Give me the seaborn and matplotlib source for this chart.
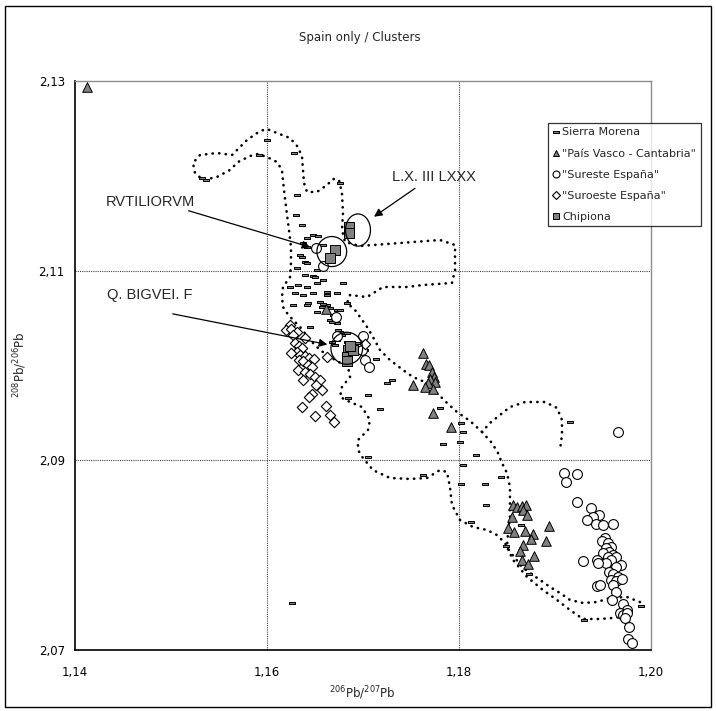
import numpy as np
import pandas as pd
import matplotlib
matplotlib.use("Agg")
import matplotlib.pyplot as plt
import seaborn as sns
from matplotlib.patches import Ellipse, Rectangle
from matplotlib.lines import Line2D
from matplotlib.path import Path

sns.set_style("white")
plt.rcParams["font.family"] = ["DejaVu Sans"]

# ---------------- data ----------------
sierra_x = [1.1600, 1.16288, 1.15917, 1.15328, 1.1537, 1.16316, 1.16305, 1.16368, 1.16766, 1.1642,
            1.16489, 1.16541, 1.16384, 1.1642, 1.1635, 1.16368, 1.16402, 1.1642, 1.16316, 1.16402,
            1.16489, 1.16524, 1.16593, 1.16506, 1.16593, 1.16332, 1.1642, 1.16524, 1.168, 1.16298,
            1.16489, 1.16627, 1.16731, 1.16437, 1.16558, 1.16627, 1.16662, 1.16731, 1.16836, 1.16696,
            1.16662, 1.16731, 1.16454, 1.16766, 1.16836, 1.16836, 1.16731, 1.16246, 1.16384, 1.16627,
            1.1628, 1.1642, 1.16593, 1.16766, 1.16524, 1.16576, 1.1668, 1.16748, 1.16783, 1.16887,
            1.1694, 1.16974, 1.1668, 1.16714, 1.1714, 1.17252, 1.17303, 1.1706, 1.16852, 1.17182,
            1.17806, 1.18031, 1.18048, 1.18014, 1.1784, 1.1818, 1.18048, 1.17632, 1.1706, 1.1687,
            1.17026, 1.18031, 1.18274, 1.18284, 1.18447, 1.18135, 1.18655, 1.18492, 1.18734, 1.19303,
            1.19903, 1.19158, 1.1627]
sierra_y = [2.1238, 2.12237, 2.12219, 2.11973, 2.1196, 2.11797, 2.11586, 2.1148, 2.11927, 2.1134,
            2.11375, 2.11364, 2.11287, 2.11251, 2.11164, 2.11146, 2.11093, 2.11076, 2.11023, 2.10952,
            2.10942, 2.11005, 2.11269, 2.10935, 2.109, 2.10847, 2.1083, 2.10865, 2.10865, 2.10759,
            2.10759, 2.10741, 2.10759, 2.10654, 2.10671, 2.10636, 2.10601, 2.10583, 2.10654, 2.1053,
            2.10478, 2.10443, 2.10407, 2.10354, 2.10337, 2.10249, 2.10266, 2.10823, 2.10741, 2.10777,
            2.10636, 2.10636, 2.10646, 2.10583, 2.10566, 2.10618, 2.1046, 2.10372, 2.10319, 2.10249,
            2.10232, 2.10196, 2.10249, 2.10214, 2.10069, 2.0981, 2.09844, 2.09686, 2.09651, 2.09535,
            2.09545, 2.09394, 2.09299, 2.09193, 2.09169, 2.0905, 2.08947, 2.08842, 2.09029, 2.10232,
            2.10161, 2.08747, 2.08747, 2.08525, 2.08817, 2.08349, 2.08314, 2.08092, 2.07797, 2.07311,
            2.07462, 2.09404, 2.0749]

vasco_x = [1.1413, 1.1857, 1.1861, 1.1866, 1.1870, 1.1867, 1.1871, 1.1856, 1.1852, 1.1858,
           1.1869, 1.1878, 1.1876, 1.1894, 1.1891, 1.1867, 1.1864, 1.1879, 1.1866, 1.1872,
           1.1763, 1.1766, 1.1769, 1.1772, 1.1774, 1.1770, 1.1776, 1.1768, 1.1765, 1.1773,
           1.1753, 1.1773, 1.1792, 1.1662]
vasco_y = [2.1294, 2.0853, 2.0850, 2.0851, 2.0853, 2.0847, 2.0842, 2.0840, 2.0828, 2.0824,
           2.0825, 2.0822, 2.0817, 2.0830, 2.0815, 2.0810, 2.0804, 2.0799, 2.0794, 2.0790,
           2.1013, 2.1001, 2.1000, 2.0993, 2.0988, 2.0985, 2.0982, 2.0981, 2.0977, 2.0975,
           2.0979, 2.0950, 2.0935, 2.1059]

sureste_x = [1.1966, 1.1910, 1.1923, 1.1912, 1.1923, 1.1938, 1.1946, 1.1940, 1.1934, 1.1943,
             1.1950, 1.1961, 1.1953, 1.1949, 1.1956, 1.1959, 1.1954, 1.1957, 1.1950, 1.1961,
             1.1956, 1.1964, 1.1959, 1.1954, 1.1969, 1.1964, 1.1957, 1.1961, 1.1966, 1.1959,
             1.1964, 1.1970, 1.1961, 1.1964, 1.1960, 1.1971, 1.1975, 1.1968, 1.1971, 1.1975,
             1.1973, 1.1978, 1.1977, 1.1981, 1.1930, 1.1944, 1.1945, 1.1944, 1.1947,
             1.1652, 1.1659, 1.16724, 1.16738, 1.17008, 1.17026, 1.1707, 1.16992]
sureste_y = [2.0930, 2.0886, 2.0885, 2.0877, 2.0856, 2.0849, 2.0842, 2.0840, 2.0837, 2.0832,
             2.0831, 2.0832, 2.0818, 2.0814, 2.0812, 2.0808, 2.0807, 2.0803, 2.0802, 2.0800,
             2.0798, 2.0798, 2.0794, 2.0791, 2.0789, 2.0787, 2.0782, 2.0780, 2.0777, 2.0773,
             2.0772, 2.0774, 2.0768, 2.0761, 2.0752, 2.0748, 2.0742, 2.0739, 2.0736, 2.0738,
             2.0733, 2.0724, 2.0711, 2.0707, 2.0793, 2.0794, 2.0791, 2.0767, 2.0768,
             2.1124, 2.1105, 2.10506, 2.1031, 2.1031, 2.1006, 2.0998, 2.1016]

suroeste_x = [1.1624, 1.1620, 1.1626, 1.1632, 1.1628, 1.1640, 1.1630, 1.1634, 1.1637, 1.1632,
              1.1625, 1.1635, 1.1640, 1.1644, 1.1649, 1.1634, 1.1638, 1.1643, 1.1647, 1.1633,
              1.1640, 1.1645, 1.1651, 1.1656, 1.1638, 1.1652, 1.1658, 1.1647, 1.1644, 1.1637,
              1.1662, 1.1650, 1.1666, 1.1670, 1.1663, 1.1703]
suroeste_y = [2.1042, 2.1037, 2.1038, 2.1035, 2.1032, 2.1029, 2.1023, 2.1020, 2.1018, 2.1014,
              2.1013, 2.1011, 2.1010, 2.1008, 2.1007, 2.1006, 2.1004, 2.1000, 2.0998, 2.0995,
              2.0993, 2.0991, 2.0988, 2.0984, 2.0984, 2.0979, 2.0974, 2.0970, 2.0967, 2.0956,
              2.0957, 2.0946, 2.0947, 2.0940, 2.1009, 2.1022]

chipiona_x = [1.1671, 1.1666, 1.16852, 1.16836, 1.16836, 1.16904, 1.1687, 1.1686, 1.1686]
chipiona_y = [2.1122, 2.1113, 2.1016, 2.1009, 2.1004, 2.1016, 2.1020, 2.1146, 2.1140]

# dotted cluster outlines
outline1_x = [1.19890, 1.19755, 1.19578, 1.19443, 1.19297, 1.19161, 1.19057, 1.18953, 1.18849, 1.18745,
              1.18661, 1.18589, 1.18536, 1.18484, 1.18401, 1.18297, 1.18151, 1.18016, 1.17932, 1.17911,
              1.17880, 1.17807, 1.17672, 1.17495, 1.17286, 1.17109, 1.17005, 1.16953, 1.16953, 1.17057,
              1.17078, 1.16995, 1.16870, 1.16766, 1.16786, 1.16870, 1.16849, 1.16714, 1.16557, 1.16474,
              1.16349, 1.16276, 1.16214, 1.16172, 1.16161, 1.16172, 1.16245, 1.16255, 1.16255, 1.16234,
              1.16214, 1.16182, 1.16161, 1.16109, 1.16005, 1.15911, 1.15828, 1.15703, 1.15620, 1.15484,
              1.15339, 1.15255, 1.15234, 1.15307, 1.15484, 1.15641, 1.15797, 1.15932, 1.16005, 1.16109,
              1.16245, 1.16328, 1.16370, 1.16380, 1.16391, 1.16422, 1.16526, 1.16630, 1.16693, 1.16755,
              1.16786, 1.16797, 1.16786, 1.16818, 1.16974, 1.17391, 1.17807, 1.17964, 1.17964, 1.17932,
              1.17630, 1.17464, 1.17214, 1.17047, 1.16870, 1.16839, 1.16922, 1.16974, 1.17047, 1.17109,
              1.17182, 1.17286, 1.17422, 1.17526, 1.17672, 1.17776, 1.17880, 1.17984, 1.18120, 1.18245,
              1.18328, 1.18432, 1.18536, 1.18693, 1.18901, 1.19026, 1.19078, 1.19078, 1.19057]
outline1_y = [2.07501, 2.07554, 2.07544, 2.07501, 2.07491, 2.07523, 2.07596, 2.07660, 2.07734, 2.07807,
              2.07871, 2.07966, 2.08029, 2.08124, 2.08208, 2.08261, 2.08293, 2.08367, 2.08525, 2.08715,
              2.08873, 2.08894, 2.08810, 2.08800, 2.08810, 2.08894, 2.09021, 2.09106, 2.09211, 2.09317,
              2.09422, 2.09559, 2.09612, 2.09665, 2.09771, 2.09876, 2.09982, 2.10055, 2.10161, 2.10245,
              2.10404, 2.10478, 2.10551, 2.10615, 2.10720, 2.10826, 2.10931, 2.11079, 2.11248, 2.11427,
              2.11586, 2.11850, 2.12061, 2.12145, 2.12198, 2.12230, 2.12208, 2.12145, 2.12061, 2.11987,
              2.11955, 2.12029, 2.12135, 2.12219, 2.12240, 2.12219, 2.12377, 2.12472, 2.12493, 2.12451,
              2.12398, 2.12303, 2.12198, 2.12061, 2.11923, 2.11829, 2.11829, 2.11902, 2.11966, 2.11955,
              2.11818, 2.11607, 2.11427, 2.11301, 2.11259, 2.11290, 2.11322, 2.11269, 2.11005, 2.10868,
              2.10847, 2.10826, 2.10826, 2.10720, 2.10741, 2.10657, 2.10583, 2.10509, 2.10404, 2.10298,
              2.10161, 2.10055, 2.09950, 2.09876, 2.09813, 2.09707, 2.09602, 2.09507, 2.09412, 2.09296,
              2.09391, 2.09475, 2.09559, 2.09612, 2.09612, 2.09549, 2.09422, 2.09264, 2.09106]

outline2_x = [1.18245, 1.18349, 1.18411, 1.18453, 1.18505, 1.18536, 1.18536, 1.18536, 1.18516, 1.18505,
              1.18568, 1.18714, 1.18880, 1.19026, 1.19161, 1.19297, 1.19474, 1.19609, 1.19682]
outline2_y = [2.09296, 2.09179, 2.09074, 2.08968, 2.08863, 2.08715, 2.08578, 2.08398, 2.08230, 2.08082,
              2.07945, 2.07765, 2.07628, 2.07523, 2.07417, 2.07322, 2.07322, 2.07333, 2.07343]

x_ticks = [1.14, 1.16, 1.18, 1.20]
y_ticks = [2.07, 2.09, 2.11, 2.13]
x_ticklabels = ["1,14", "1,16", "1,18", "1,20"]
y_ticklabels = ["2,07", "2,09", "2,11", "2,13"]

# ---------------- figure ----------------
W, H = 716, 711
fig = plt.figure(figsize=(W / 100, H / 100), dpi=100)
ax = fig.add_axes([74.5 / W, 1 - 649.5 / H, (650.5 - 74.5) / W, (649.5 - 81) / H])

for xv in [1.16, 1.18]:
    ax.axvline(xv, color="#444444", lw=0.8, ls=(0, (1, 1)), zorder=0)
for yv in [2.09, 2.11]:
    ax.axhline(yv, color="#444444", lw=0.8, ls=(0, (1, 1)), zorder=0)

dotted = (0, (0.1, 2.4))
for ox, oy in [(outline1_x, outline1_y), (outline2_x, outline2_y)]:
    sns.lineplot(x=ox, y=oy, sort=False, estimator=None, ax=ax, color="black",
                 lw=1.9, linestyle=dotted, dash_capstyle="round", zorder=2)

dash_marker = Path([(-1, -0.42), (1, -0.42), (1, 0.42), (-1, 0.42), (-1, -0.42)],
                   [Path.MOVETO, Path.LINETO, Path.LINETO, Path.LINETO, Path.CLOSEPOLY])

sns.scatterplot(x=sierra_x, y=sierra_y, ax=ax, marker=dash_marker, s=16,
                color="#7f7f7f", edgecolor="black", linewidth=0.7, zorder=3)
sns.scatterplot(x=vasco_x, y=vasco_y, ax=ax, marker="^", s=48,
                color="#808080", edgecolor="black", linewidth=0.7, zorder=3)
sns.scatterplot(x=sureste_x, y=sureste_y, ax=ax, marker="o", s=50,
                color="white", edgecolor="black", linewidth=0.8, zorder=3)
sns.scatterplot(x=suroeste_x, y=suroeste_y, ax=ax, marker="D", s=28,
                color="white", edgecolor="black", linewidth=0.8, zorder=3)
sns.scatterplot(x=chipiona_x, y=chipiona_y, ax=ax, marker="s", s=42,
                color="#808080", edgecolor="black", linewidth=0.7, zorder=4)

# circles around the Chipiona stamps
for (cx, cy, w, h) in [(1.1668, 2.1120, 0.0031, 0.00317),
                       (1.16836, 2.10179, 0.0033, 0.00338),
                       (1.16953, 2.11427, 0.0026, 0.0034)]:
    ax.add_patch(Ellipse((cx, cy), w, h, fill=False, ec="black", lw=0.9, zorder=5))

ann_font = dict(family="Liberation Sans", size=10.5)
ax.text(1.14328, 2.11723, "RVTILIORVM", ha="left", va="center", **ann_font)
ax.annotate("", xy=(1.16484, 2.11238), xytext=(1.15161, 2.11639),
            arrowprops=dict(arrowstyle="-|>", color="black", lw=0.9, mutation_scale=12))
ax.text(1.14335, 2.10741, "Q. BIGVEI. F", ha="left", va="center", **ann_font)
ax.annotate("", xy=(1.16662, 2.10214), xytext=(1.14995, 2.10548),
            arrowprops=dict(arrowstyle="-|>", color="black", lw=0.9, mutation_scale=12))
ax.text(1.17304, 2.1199, "L.X. III LXXX", ha="left", va="center", **ann_font)
ax.annotate("", xy=(1.17096, 2.11551), xytext=(1.17571, 2.11884),
            arrowprops=dict(arrowstyle="-|>", color="black", lw=0.9, mutation_scale=12))

ax.set_xlim(1.14, 1.20)
ax.set_ylim(2.07, 2.13)
ax.set_xticks(x_ticks)
ax.set_xticklabels(x_ticklabels)
ax.set_yticks(y_ticks)
ax.set_yticklabels(y_ticklabels)
ax.tick_params(direction="out", length=4, width=0.8, colors="black", labelsize=8.5, pad=3)
ax.tick_params(axis="x", pad=8)
for side in ["top", "right"]:
    ax.spines[side].set_color("#8c8c8c")
    ax.spines[side].set_linewidth(1.0)
for side in ["left", "bottom"]:
    ax.spines[side].set_color("black")
    ax.spines[side].set_linewidth(1.2)
ax.set_xlabel("")
ax.set_ylabel("")

fig.text(362 / W, 1 - 693 / H, r"$^{206}$Pb/$^{207}$Pb", ha="center", va="center", fontsize=8.5)
fig.text(20 / W, 1 - 365 / H, r"$^{208}$Pb/$^{206}$Pb", ha="center", va="center",
         rotation=90, fontsize=8.5)
fig.text(360 / W, 1 - 37 / H, "Spain only / Clusters", ha="center", va="center", fontsize=8.5)

handles = [
    Line2D([], [], ls="none", marker=dash_marker, ms=4.5, mfc="#7f7f7f", mec="black", mew=0.7),
    Line2D([], [], ls="none", marker="^", ms=5, mfc="#808080", mec="black", mew=0.7),
    Line2D([], [], ls="none", marker="o", ms=5, mfc="white", mec="black", mew=0.8),
    Line2D([], [], ls="none", marker="D", ms=4, mfc="white", mec="black", mew=0.8),
    Line2D([], [], ls="none", marker="s", ms=5, mfc="#808080", mec="black", mew=0.7),
]
labels = ["Sierra Morena", "\"País Vasco - Cantabria\"", "\"Sureste España\"",
          "\"Suroeste España\"", "Chipiona"]
leg = fig.legend(handles, labels, loc="upper left", bbox_to_anchor=(548 / W, 1 - 123 / H),
                 frameon=True, fancybox=False, edgecolor="black", fontsize=8,
                 handlelength=0.6, handletextpad=0.3, borderpad=0.4, labelspacing=1.0,
                 borderaxespad=0)
leg.get_frame().set_linewidth(0.9)

fig.patches.append(Rectangle((5 / W, 4 / H), 706 / W, 701 / H, transform=fig.transFigure,
                             fill=False, ec="black", lw=1.0))

fig.savefig("out.png", dpi=100)
